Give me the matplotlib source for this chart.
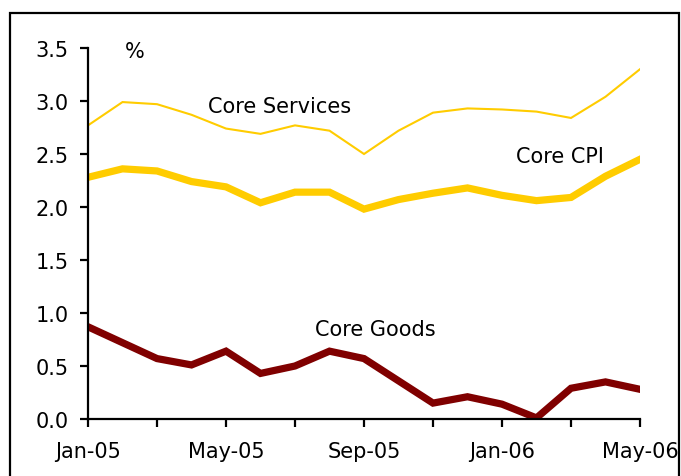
import matplotlib
matplotlib.use("Agg")
import matplotlib.pyplot as plt
from matplotlib.patches import Rectangle

months = ["Jan-05", "Feb-05", "Mar-05", "Apr-05", "May-05", "Jun-05", "Jul-05",
          "Aug-05", "Sep-05", "Oct-05", "Nov-05", "Dec-05", "Jan-06", "Feb-06",
          "Mar-06", "Apr-06", "May-06"]
core_services = [2.77, 2.99, 2.97, 2.87, 2.74, 2.69, 2.77, 2.72, 2.50, 2.72,
                 2.89, 2.93, 2.92, 2.90, 2.84, 3.04, 3.30]
core_cpi = [2.28, 2.36, 2.34, 2.24, 2.19, 2.04, 2.14, 2.14, 1.98, 2.07,
            2.13, 2.18, 2.11, 2.06, 2.09, 2.29, 2.45]
core_goods = [0.87, 0.72, 0.57, 0.51, 0.64, 0.43, 0.50, 0.64, 0.57, 0.36,
              0.15, 0.21, 0.14, 0.01, 0.29, 0.35, 0.28]
y_ticks = [0.0, 0.5, 1.0, 1.5, 2.0, 2.5, 3.0, 3.5]

YELLOW = "#FFCC00"
DARK_RED = "#800000"
FS = 15

fig = plt.figure(figsize=(6.81, 4.77), dpi=100)
ax = fig.add_axes([88 / 681, 57 / 477, 552 / 681, 371 / 477])

x = list(range(len(months)))
ax.plot(x, core_services, color=YELLOW, lw=1.5, solid_joinstyle="miter")
ax.plot(x, core_cpi, color=YELLOW, lw=5.2, solid_joinstyle="miter")
ax.plot(x, core_goods, color=DARK_RED, lw=5.2, solid_joinstyle="miter")

ax.set_xlim(0, len(months) - 1)
ax.set_ylim(0, 3.5)
ax.set_yticks(y_ticks)
ax.set_yticklabels([f"{v:.1f}" for v in y_ticks])
xt = x[::2]
ax.set_xticks(xt)
ax.set_xticklabels([months[i] if i % 4 == 0 else "" for i in xt])

for side in ("top", "right"):
    ax.spines[side].set_visible(False)
for side in ("left", "bottom"):
    ax.spines[side].set_linewidth(1.6)
    ax.spines[side].set_color("black")
ax.tick_params(axis="both", length=6, width=1.6, labelsize=FS, colors="black")
ax.tick_params(axis="x", pad=10)
ax.tick_params(axis="y", pad=8)

ax.text(1.36, 3.47, "%", fontsize=FS, ha="center", va="center")
ax.text(3.48, 2.95, "Core Services", fontsize=FS, ha="left", va="center")
ax.text(12.4, 2.48, "Core CPI", fontsize=FS, ha="left", va="center")
ax.text(6.58, 0.85, "Core Goods", fontsize=FS, ha="left", va="center")

# outer frame around the chart
fig.patches.append(Rectangle((10 / 681, -0.05), 669 / 681, 1.05 - 14 / 477,
                             transform=fig.transFigure, fill=False,
                             edgecolor="black", lw=1.6))

fig.savefig("out.png", dpi=100)
